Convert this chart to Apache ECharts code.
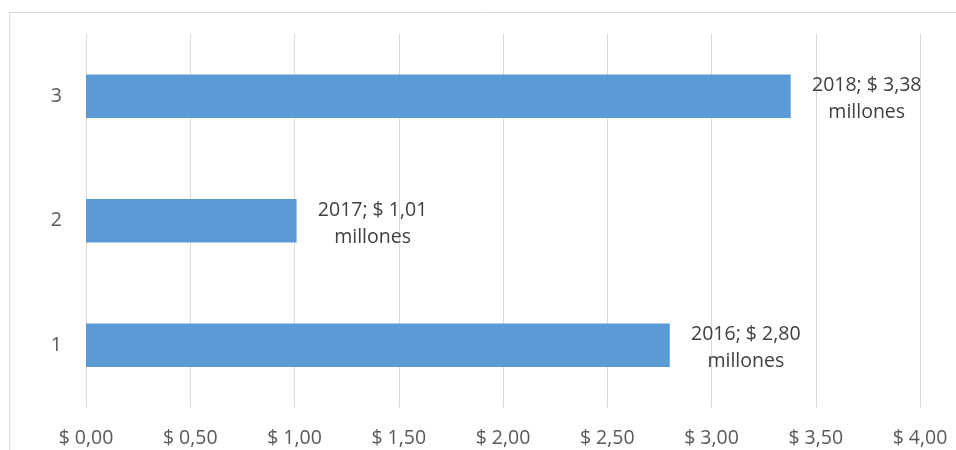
<!DOCTYPE html>
<html><head><meta charset="utf-8">
<script src="https://cdn.jsdelivr.net/npm/echarts@6/dist/echarts.min.js"></script>
<style>html,body{margin:0;padding:0;background:#fff}#c{width:956px;height:450px}</style>
</head><body><div id="c"></div>
<script>
const categories = ['1', '2', '3'];
const years = ['2016', '2017', '2018'];
const values = [2.80, 1.01, 3.38];
const xTicks = { min: 0, max: 4, interval: 0.5 };

const fmt = v => '$ ' + v.toFixed(2).replace('.', ',');
const chart = echarts.init(document.getElementById('c'));
const FONT = 'Open Sans';
chart.setOption({
  animation: false,
  textStyle: { fontFamily: FONT },
  graphic: [{
    type: 'rect', shape: { x: 9.5, y: 12.5, width: 960, height: 460 },
    style: { fill: 'none', stroke: '#d9d9d9', lineWidth: 1 }, silent: true, z: -1
  }],
  grid: { left: 86, right: 36, top: 34, bottom: 42.5, containLabel: false },
  xAxis: {
    type: 'value', min: xTicks.min, max: xTicks.max, interval: xTicks.interval,
    axisLine: { show: false }, axisTick: { show: false },
    splitLine: { lineStyle: { color: '#d9d9d9', width: 1 } },
    axisLabel: { formatter: fmt, color: '#595959', fontSize: 19.5, fontFamily: FONT, margin: 21 }
  },
  yAxis: {
    type: 'category', data: categories,
    axisLine: { show: false }, axisTick: { show: false },
    axisLabel: { color: '#595959', fontSize: 19.5, fontFamily: FONT, margin: 24 }
  },
  series: [{
    type: 'bar', data: values, barWidth: '35%',
    itemStyle: { color: '#5b9bd5' },
    label: {
      show: true, position: 'right', distance: 12, align: 'center',
      color: '#404040', fontSize: 19.5, fontFamily: FONT, lineHeight: 27, offset: [64, 3],
      formatter: p => years[p.dataIndex] + '; ' + fmt(p.value) + '\nmillones'
    }
  }]
});
</script></body></html>
